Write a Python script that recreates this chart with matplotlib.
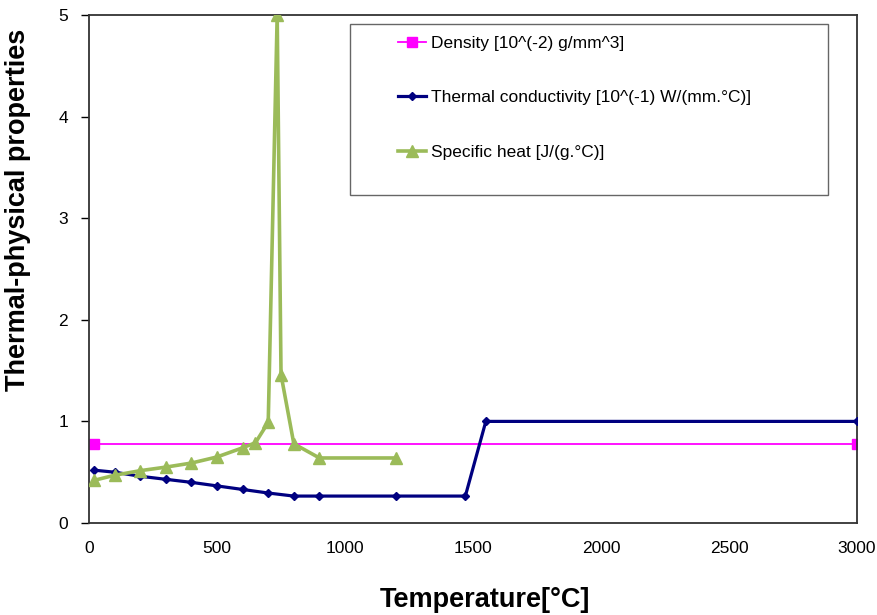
import matplotlib
matplotlib.use('Agg')
import matplotlib.pyplot as plt
from matplotlib.patches import Rectangle

plt.rcParams['font.family'] = ['Liberation Sans', 'DejaVu Sans']

# density [10^(-2) g/mm^3]
dens_T = [20, 3000]
dens_v = [0.78, 0.78]

# thermal conductivity [10^(-1) W/(mm.C)]
cond_T = [20, 100, 200, 300, 400, 500, 600, 700, 800, 900, 1200, 1470, 1550, 3000]
cond_v = [0.52, 0.50, 0.46, 0.43, 0.40, 0.365, 0.33, 0.295, 0.265, 0.265, 0.265, 0.265, 1.0, 1.0]

# specific heat [J/(g.C)]
cp_T = [20, 100, 200, 300, 400, 500, 600, 650, 700, 735, 750, 800, 900, 1200]
cp_v = [0.42, 0.47, 0.515, 0.55, 0.59, 0.65, 0.74, 0.79, 0.99, 5.0, 1.46, 0.78, 0.64, 0.64]

labels = ['Density [10^(-2) g/mm^3]',
          'Thermal conductivity [10^(-1) W/(mm.\u00b0C)]',
          'Specific heat [J/(g.\u00b0C)]']

fig = plt.figure(figsize=(8.78, 6.15), dpi=100)
ax = fig.add_axes([0.1014, 0.1496, 0.8747, 0.826])

ax.plot(dens_T, dens_v, color='#FF00FF', lw=1.3, marker='s', ms=6.5, label=labels[0], zorder=2)
ax.plot(cond_T, cond_v, color='#000080', lw=2.3, marker='D', ms=4, label=labels[1], zorder=3)
ax.plot(cp_T, cp_v, color='#9BBB59', lw=2.6, marker='^', ms=9, label=labels[2], zorder=4)

ax.set_xlim(0, 3000)
ax.set_ylim(0, 5)
ax.set_xticks(range(0, 3001, 500))
ax.set_yticks(range(0, 6))
ax.tick_params(labelsize=12.5, colors='black')
ax.tick_params(axis='y', direction='out', length=6, width=1, pad=9)
ax.tick_params(axis='x', length=0, pad=13)
for s in ax.spines.values():
    s.set_color('#333333')
    s.set_linewidth(1.3)

ax.set_xlabel('Temperature[\u00b0C]', fontsize=19.5, fontweight='bold')
ax.set_ylabel('Thermal-physical properties', fontsize=19.5, fontweight='bold')
ax.xaxis.set_label_coords(0.516, -0.126)
ax.yaxis.set_label_coords(-0.076, 0.616)

leg = ax.legend(loc='upper left', bbox_to_anchor=(398 / 878, 1 - 36 / 615),
                bbox_transform=fig.transFigure, frameon=False, fontsize=12.5,
                handlelength=1.6, handletextpad=0.3, labelspacing=2.25,
                borderpad=0, borderaxespad=0)
fig.add_artist(Rectangle((350 / 878, 1 - 195 / 615), 478 / 878, 171 / 615,
                         transform=fig.transFigure, fill=False,
                         edgecolor='#666666', lw=1.0, zorder=5))

fig.savefig('out.png', dpi=100)
